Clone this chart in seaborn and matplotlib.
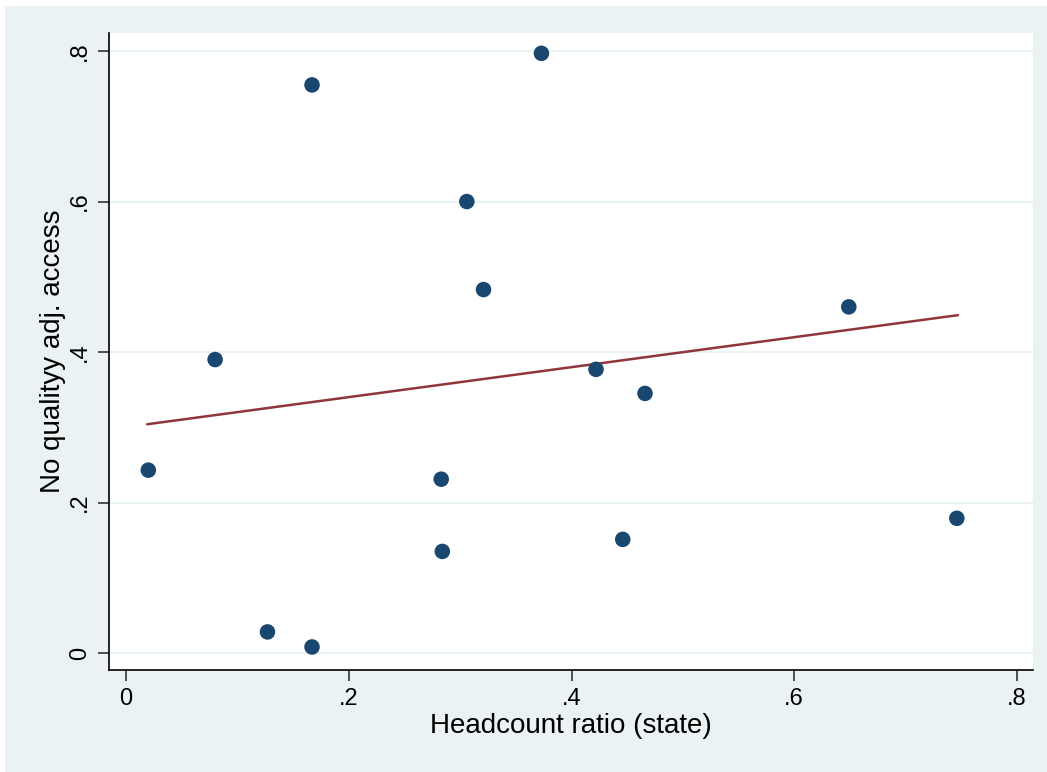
import matplotlib
matplotlib.use("Agg")
import matplotlib.pyplot as plt
import seaborn as sns
import pandas as pd
from matplotlib.patches import Rectangle

# ------------------------------------------------------------
# Data
# ------------------------------------------------------------
headcount = [0.020, 0.080, 0.127, 0.167, 0.167, 0.283, 0.284, 0.306,
             0.321, 0.373, 0.422, 0.446, 0.466, 0.649, 0.746]
no_access = [0.243, 0.390, 0.028, 0.755, 0.008, 0.231, 0.135, 0.600,
             0.483, 0.797, 0.377, 0.151, 0.345, 0.460, 0.179]

# fitted line as drawn in the reference (endpoints)
fit_x = [0.019, 0.747]
fit_y = [0.304, 0.449]

x_ticks = [0, 0.2, 0.4, 0.6, 0.8]
x_tick_labels = ["0", ".2", ".4", ".6", ".8"]
y_ticks = [0, 0.2, 0.4, 0.6, 0.8]
y_tick_labels = ["0", ".2", ".4", ".6", ".8"]

df = pd.DataFrame({"headcount": headcount, "no_access": no_access})
df_fit = pd.DataFrame({"x": fit_x, "y": fit_y})

# ------------------------------------------------------------
# Style
# ------------------------------------------------------------
sns.set_style("white")
plt.rcParams['font.family'] = ['Liberation Sans', 'DejaVu Sans']
plt.rcParams['text.color'] = 'black'
plt.rcParams['axes.labelcolor'] = 'black'
plt.rcParams['xtick.labelcolor'] = 'black'
plt.rcParams['ytick.labelcolor'] = 'black'

BG = "#EAF2F3"
NAVY = "#1A476F"
MAROON = "#90353B"

fig = plt.figure(figsize=(10.47, 7.72), dpi=100, facecolor="white")
fig.patches.append(Rectangle((5 / 1047, 0), 1 - 5 / 1047, 1 - 6 / 772,
                             transform=fig.transFigure, facecolor=BG,
                             edgecolor="none", zorder=-10))

ax = fig.add_axes([109 / 1047, 102 / 772, 924 / 1047, 637 / 772])
ax.set_facecolor("white")

for y in y_ticks:
    ax.axhline(y, color=BG, linewidth=1.6, zorder=0)

sns.scatterplot(data=df, x="headcount", y="no_access", ax=ax,
                color=NAVY, s=125, edgecolor="none", zorder=3)
sns.lineplot(data=df_fit, x="x", y="y", ax=ax, color=MAROON,
             linewidth=1.8, zorder=2)

ax.set_xlim(-0.0153, 0.8144)
ax.set_ylim(-0.0226, 0.824)

ax.set_xticks(x_ticks)
ax.set_xticklabels(x_tick_labels)
ax.set_yticks(y_ticks)
ax.set_yticklabels(y_tick_labels, rotation=90, va="center")

ax.tick_params(axis="both", direction="out", length=8, width=1.2,
               color="#333333", labelcolor="black", labelsize=17, pad=5,
               left=True, bottom=True)

for side in ["top", "right"]:
    ax.spines[side].set_visible(False)
for side in ["left", "bottom"]:
    ax.spines[side].set_color("black")
    ax.spines[side].set_linewidth(1.2)

ax.set_xlabel("Headcount ratio (state)", fontsize=20, color="black")
ax.set_ylabel("No qualityy adj. access", fontsize=20, color="black")
ax.xaxis.set_label_coords(0.5, -0.068)
ax.yaxis.set_label_coords(-0.047, 0.5)

fig.savefig("out.png", dpi=100, facecolor=fig.get_facecolor())
